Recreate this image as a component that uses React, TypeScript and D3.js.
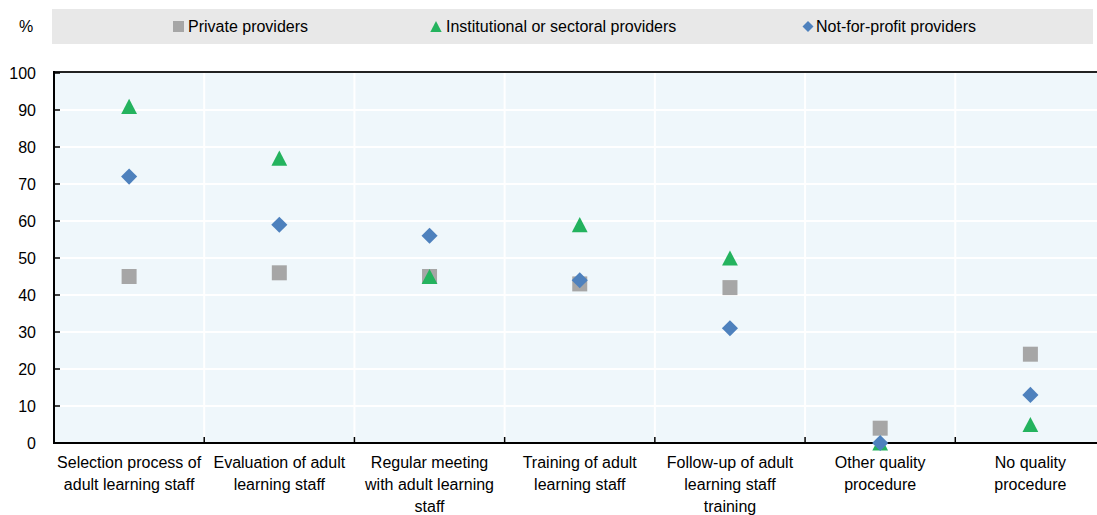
import React from "react";
import * as d3 from "d3";

const categories: string[][] = [
  ["Selection process of", "adult learning staff"],
  ["Evaluation of adult", "learning staff"],
  ["Regular meeting", "with adult learning", "staff"],
  ["Training of adult", "learning staff"],
  ["Follow-up of adult", "learning staff", "training"],
  ["Other quality", "procedure"],
  ["No quality", "procedure"],
];
const privateProviders = [45, 46, 45, 43, 42, 4, 24];
const institutionalProviders = [91, 77, 45, 59, 50, 0, 5];
const notForProfitProviders = [72, 59, 56, 44, 31, 0, 13];
const yTicks = [0, 10, 20, 30, 40, 50, 60, 70, 80, 90, 100];

const seriesNames = ["Private providers", "Institutional or sectoral providers", "Not-for-profit providers"];
const seriesColors = ["#A6A6A6", "#24B35E", "#4E81BD"];

const W = 1097;
const H = 515;
const FONT = "Arial, 'Liberation Sans', sans-serif";

const triangleType = {
  draw(ctx: any, size: number) {
    const w = Math.sqrt(size * 2 * 1.04);
    const h = w * 0.96;
    ctx.moveTo(0, -h / 2);
    ctx.lineTo(w / 2, h / 2);
    ctx.lineTo(-w / 2, h / 2);
    ctx.closePath();
  },
};
const diamondType = {
  draw(ctx: any, size: number) {
    const r = Math.sqrt(size * 2) / 2;
    ctx.moveTo(0, -r);
    ctx.lineTo(r, 0);
    ctx.lineTo(0, r);
    ctx.lineTo(-r, 0);
    ctx.closePath();
  },
};

export default function App() {
  const plotLeft = 54;
  const plotRight = 1105.5;
  const x = d3.scaleBand<number>().domain(d3.range(categories.length)).range([plotLeft, plotRight]).padding(0);
  const y = d3.scaleLinear().domain([0, 100]).range([443, 73]);
  const bw = x.bandwidth();

  const squarePath = d3.symbol().type(d3.symbolSquare).size(225)()!;
  const triPath = d3.symbol().type(triangleType as any).size(120)()!;
  const diaPath = d3.symbol().type(diamondType as any).size(130)()!;
  const legSquare = d3.symbol().type(d3.symbolSquare).size(121)()!;
  const legTri = d3.symbol().type(triangleType as any).size(62)()!;
  const legDia = d3.symbol().type(diamondType as any).size(60)()!;

  const series = [
    { values: privateProviders, path: squarePath, color: seriesColors[0] },
    { values: institutionalProviders, path: triPath, color: seriesColors[1] },
    { values: notForProfitProviders, path: diaPath, color: seriesColors[2] },
  ];

  const legendItems = [
    { marker: legSquare, mx: 178.5, tx: 188 },
    { marker: legTri, mx: 436, tx: 446 },
    { marker: legDia, mx: 808, tx: 816 },
  ];

  const boundaries = d3.range(1, categories.length).map((i) => x(i)!);

  return (
    <svg
      width={W}
      height={H}
      style={{ position: "absolute", left: 0, top: 0, fontFamily: FONT }}
    >
      <rect x={0} y={0} width={W} height={H} fill="#fff" />
      {/* legend */}
      <rect x={52} y={9} width={1041} height={35} fill="#E8E8E8" />
      <text x={26} y={26} fontSize={16} textAnchor="middle" dominantBaseline="central" fill="#000">%</text>
      {legendItems.map((it, i) => (
        <g key={i}>
          <path d={it.marker} transform={`translate(${it.mx},26.5)`} fill={seriesColors[i]} />
          <text x={it.tx} y={26.5} fontSize={16} dominantBaseline="central" fill="#000">{seriesNames[i]}</text>
        </g>
      ))}

      {/* plot background */}
      <rect x={plotLeft} y={y(100)} width={plotRight - plotLeft} height={y(0) - y(100)} fill="#EFF7FB" />
      {yTicks.filter((t) => t > 0 && t < 100).map((t) => (
        <line key={t} x1={plotLeft} x2={plotRight} y1={y(t)} y2={y(t)} stroke="#fff" strokeWidth={2} />
      ))}
      {boundaries.map((bx, i) => (
        <line key={i} x1={bx} x2={bx} y1={y(100)} y2={y(0)} stroke="#fff" strokeWidth={2} />
      ))}

      {/* axes */}
      <line x1={plotLeft} x2={plotRight} y1={y(100) - 1} y2={y(100) - 1} stroke="#222" strokeWidth={2} />
      <line x1={plotLeft} x2={plotLeft} y1={y(100) - 2} y2={y(0) + 1} stroke="#000" strokeWidth={2} />
      <line x1={plotLeft - 1} x2={plotRight} y1={y(0)} y2={y(0)} stroke="#000" strokeWidth={2} />
      {yTicks.map((t) => (
        <g key={t}>
          <line x1={plotLeft} x2={plotLeft + 6} y1={y(t)} y2={y(t)} stroke="#000" strokeWidth={1.5} />
          <text x={36} y={y(t)} fontSize={16} textAnchor="end" dominantBaseline="central" fill="#000">{t}</text>
        </g>
      ))}
      {boundaries.map((bx, i) => (
        <line key={i} x1={bx} x2={bx} y1={y(0)} y2={y(0) - 6} stroke="#000" strokeWidth={1.5} />
      ))}

      {/* category labels */}
      {categories.map((lines, i) => (
        <text key={i} x={x(i)! + bw / 2} fontSize={16} textAnchor="middle" fill="#000">
          {lines.map((ln, j) => (
            <tspan key={j} x={x(i)! + bw / 2} y={467.5 + j * 22}>{ln}</tspan>
          ))}
        </text>
      ))}

      {/* markers */}
      {series.map((s, si) => (
        <g key={si}>
          {s.values.map((v, i) => (
            <path key={i} d={s.path} transform={`translate(${x(i)! + bw / 2},${y(v)})`} fill={s.color} />
          ))}
        </g>
      ))}
    </svg>
  );
}
